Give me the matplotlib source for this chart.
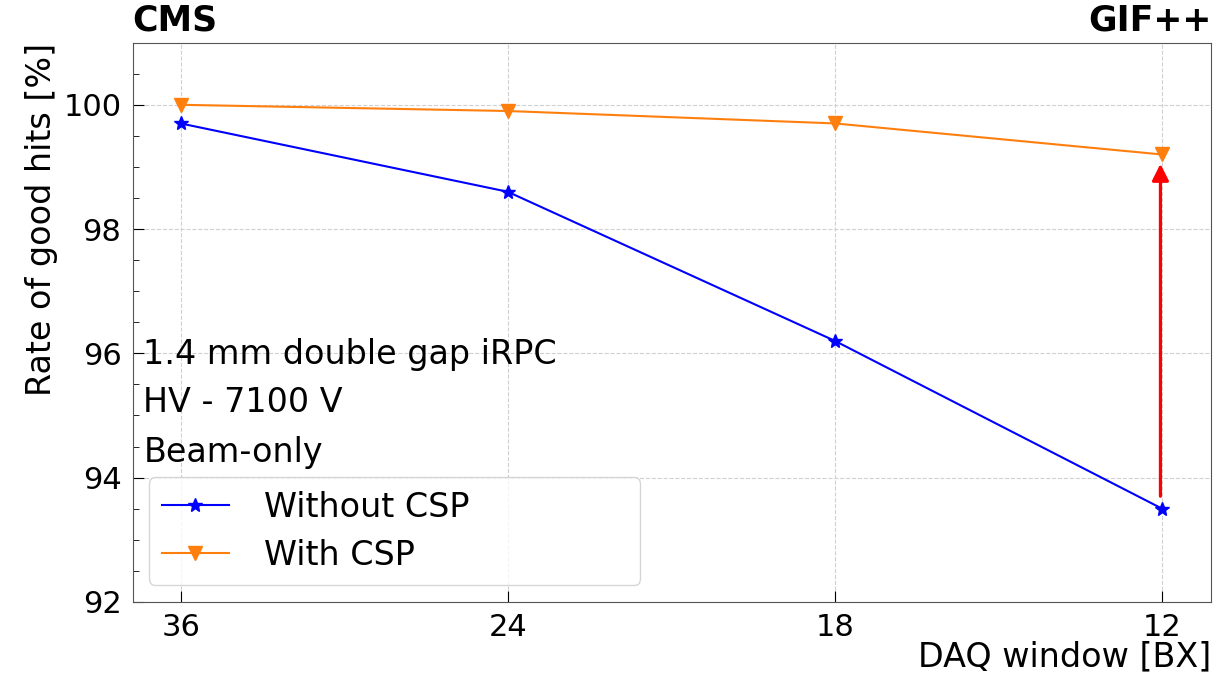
import numpy as np
import matplotlib.pyplot as plt

# Datos
ventanas = ['36', '24', '18', '12']
sin_csp = [99.7, 98.6, 96.2, 93.5]
con_csp = [100.0, 99.9, 99.7, 99.2]
flecha_desde = 93.7
flecha_hasta = 99.05

x = np.arange(len(ventanas))

fig, ax = plt.subplots(figsize=(12.16, 6.77), dpi=100)
fig.subplots_adjust(left=0.109, right=0.996, top=0.937, bottom=0.111)

ax.plot(x, sin_csp, color='blue', marker='*', markersize=10, lw=1.5,
        label='Without CSP')
ax.plot(x, con_csp, color='tab:orange', marker='v', markersize=10, lw=1.5,
        label='With CSP')

# Flecha de mejora en 12 BX
ax.annotate('', xy=(x[-1] - 0.005, flecha_hasta),
            xytext=(x[-1] - 0.005, flecha_desde),
            arrowprops=dict(arrowstyle='-|>', color='red', lw=2.3,
                            mutation_scale=25, shrinkA=0, shrinkB=0))

ax.set_xlim(-0.147, 3.15)
ax.set_ylim(92, 101)
ax.set_xticks(x)
ax.set_xticklabels(ventanas)
ax.set_yticks([92, 94, 96, 98, 100])
ax.set_yticks(np.arange(92, 101.01, 0.5), minor=True)
ax.tick_params(axis='both', which='major', direction='in', length=8,
               labelsize=22, pad=8)
ax.tick_params(axis='y', which='minor', direction='in', length=4)
ax.grid(True, which='major', linestyle='--', color='#d0d0d0', lw=0.8)
for s in ax.spines.values():
    s.set_color('#555555')

ax.set_xlabel('DAQ window [BX]', fontsize=24, loc='right', labelpad=-1)
ax.set_ylabel('Rate of good hits [%]', fontsize=24, loc='top')

ax.text(0.0, 1.01, 'CMS', transform=ax.transAxes, fontsize=25,
        fontweight='bold', ha='left', va='bottom')
ax.text(1.0, 1.01, 'GIF++', transform=ax.transAxes, fontsize=25,
        fontweight='bold', ha='right', va='bottom')

ax.text(0.01, 0.442, '1.4 mm double gap iRPC', transform=ax.transAxes,
        fontsize=24, va='center')
ax.text(0.01, 0.356, 'HV - 7100 V', transform=ax.transAxes, fontsize=24,
        va='center')
ax.text(0.01, 0.267, 'Beam-only', transform=ax.transAxes, fontsize=24,
        va='center')

ax.legend(loc='lower left', fontsize=24, handlelength=2.0,
          bbox_to_anchor=(0.0148, 0.03, 0.456, 0.2), mode='expand',
          borderaxespad=0, borderpad=0.4, handletextpad=1.05,
          labelspacing=0.45, frameon=True)

fig.savefig('out.png', dpi=100)
